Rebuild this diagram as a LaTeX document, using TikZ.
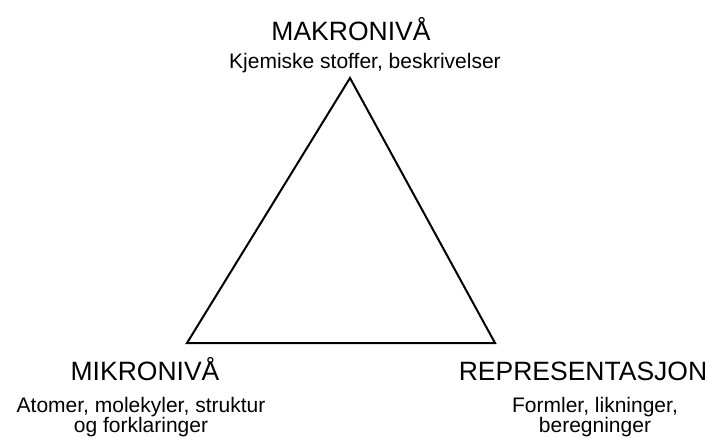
\documentclass[tikz,border=0pt]{standalone}
\usepackage{fontspec}
\setmainfont{Liberation Sans}
\begin{document}
\begin{tikzpicture}[x=1pt,y=-1pt,
  level/.style={font=\fontsize{26.5}{30}\selectfont,anchor=base},
  detail/.style={font=\fontsize{21}{20}\selectfont,anchor=base,align=center}]
  % chemistry triangle: macro, micro and representation levels
  \useasboundingbox (0,0) rectangle (713,439);
  \coordinate (top) at (350,78);
  \coordinate (left) at (187,343);
  \coordinate (right) at (495,343);
  \draw[line width=2pt] (top) -- (left) -- (right) -- cycle;
  \node[level] (makro) at (351,40) {MAKRONIVÅ};
  \node[detail] (makrotxt) at (365,68) {Kjemiske stoffer, beskrivelser};
  \node[level] (mikro) at (145,380) {MIKRONIVÅ};
  \node[detail] (mikrotxt) at (141,432) {Atomer, molekyler, struktur\\og forklaringer};
  \node[level] (repr) at (583,380) {REPRESENTASJON};
  \node[detail] (reprtxt) at (595,432) {Formler, likninger,\\beregninger};
\end{tikzpicture}
\end{document}
